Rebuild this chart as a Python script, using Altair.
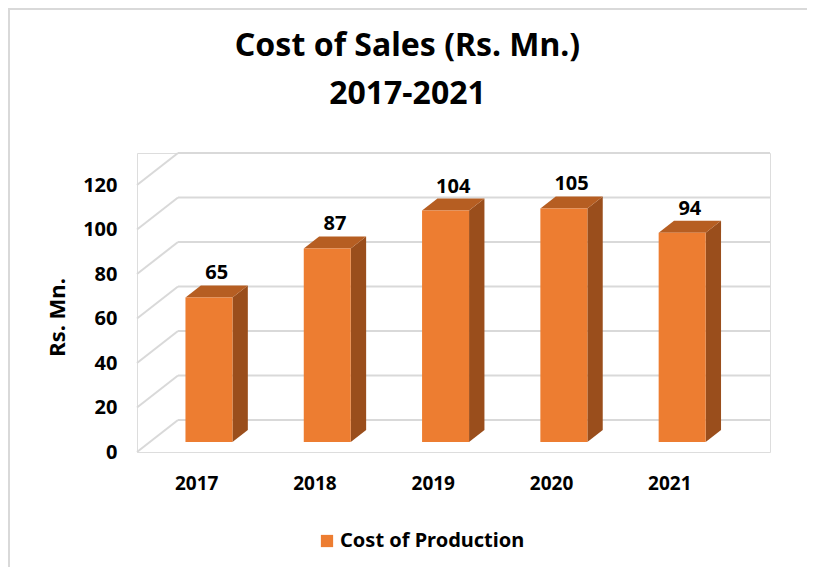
import altair as alt
import pandas as pd

# ---------------- data ----------------
years = ["2017", "2018", "2019", "2020", "2021"]
values = [65, 87, 104, 105, 94]
y_ticks = [0, 20, 40, 60, 80, 100, 120]
series_name = "Cost of Production"
title_lines = ["Cost of Sales (Rs. Mn.)", "2017-2021"]
y_title = "Rs. Mn."

# ---------------- geometry / style ----------------
PX_X = 118.3          # px per category band
PX_Y = 2.225          # px per value unit
W, H = 633, 299
X_MAX = W / PX_X
Y_MAX = H / PX_Y
DEPTH_X = 41 / PX_X   # 3-D depth of the floor/walls
DEPTH_Y = 32 / PX_Y
F_FRONT, F_BACK = 0.3125, 0.6875
HALF_W = 23.5 / PX_X
DDX = (F_BACK - F_FRONT) * DEPTH_X
DDY = (F_BACK - F_FRONT) * DEPTH_Y
PAD = {"left": 129, "top": 145, "right": 37, "bottom": 115}

FONT = "Noto Sans"
C_FRONT = "#ED7D31"
C_TOP = "#B65E22"
C_SIDE = "#9A4E1C"
C_GRID = "#D9D9D9"

# ---------------- derived tables ----------------
bars = pd.DataFrame({"year": years, "value": values})
bars["series"] = series_name
bars["i"] = range(len(years))
bars["xl"] = bars["i"] + 0.5 + F_FRONT * DEPTH_X - HALF_W
bars["xr"] = bars["i"] + 0.5 + F_FRONT * DEPTH_X + HALF_W
bars["yb"] = F_FRONT * DEPTH_Y
bars["yt"] = bars["value"] + bars["yb"]
bars["lx"] = (bars["xl"] + bars["xr"]) / 2 + DDX / 2
bars["ly"] = bars["yt"] + DDY

side_rows, top_rows = [], []
for _, r in bars.iterrows():
    side_rows.append({"year": r.year, "x": r.xr, "lo": r.yb, "hi": r.yt})
    side_rows.append({"year": r.year, "x": r.xr + DDX, "lo": r.yb + DDY, "hi": r.yt + DDY})
    top_rows.append({"year": r.year, "x": r.xl, "lo": r.yt, "hi": r.yt})
    top_rows.append({"year": r.year, "x": r.xl + DDX, "lo": r.yt, "hi": r.yt + DDY})
    top_rows.append({"year": r.year, "x": r.xr, "lo": r.yt, "hi": r.yt + DDY})
    top_rows.append({"year": r.year, "x": r.xr + DDX, "lo": r.yt + DDY, "hi": r.yt + DDY})
side = pd.DataFrame(side_rows)
top = pd.DataFrame(top_rows)

grid = pd.DataFrame({"k": y_ticks})
grid["xb"] = DEPTH_X
grid["xe"] = X_MAX
grid["yback"] = grid["k"] + DEPTH_Y
grid["x0"] = 0.0

# ---------------- scales / axes ----------------
xscale = alt.Scale(domain=[0, X_MAX], nice=False, zero=False)
yscale = alt.Scale(domain=[0, Y_MAX], nice=False, zero=False)

label_expr = "[" + ",".join("'%s'" % y for y in years) + "][floor(datum.value)]"
xaxis = alt.Axis(values=[i + 0.5 for i in range(len(years))], labelExpr=label_expr,
                 title=None, domain=False, ticks=False, grid=False,
                 labelFont=FONT, labelFontSize=19, labelFontWeight="bold",
                 labelColor="black", labelPadding=22, labelFlush=False)
yaxis = alt.Axis(values=y_ticks, title=y_title, domain=False, ticks=False, grid=False,
                 labelFont=FONT, labelFontSize=20, labelFontWeight="bold",
                 labelColor="black", labelPadding=20,
                 titleFont=FONT, titleFontSize=22, titleFontWeight="bold",
                 titleColor="black", titlePadding=13, titleY=164)


def X(f):
    return alt.X(f, type="quantitative", scale=xscale, axis=xaxis)


def Y(f):
    return alt.Y(f, type="quantitative", scale=yscale, axis=yaxis)


# ---------------- layers ----------------
border = alt.Chart(pd.DataFrame({"a": [0]})).mark_rect(
    fill="white", fillOpacity=0, stroke=C_GRID, strokeWidth=2
).encode(x=alt.value(1 - PAD["left"]), y=alt.value(1 - PAD["top"]),
         x2=alt.value(W + 200), y2=alt.value(H + 300))

back_grid = alt.Chart(grid).mark_rule(color=C_GRID, strokeWidth=2).encode(
    x=X("xb:Q"), x2="xe:Q", y=Y("yback:Q"))

diag = alt.Chart(grid).mark_rule(color=C_GRID, strokeWidth=2).encode(
    x=X("x0:Q"), x2="xb:Q", y=Y("k:Q"), y2="yback:Q")

side_l = alt.Chart(side).mark_area(color=C_SIDE, interpolate="linear").encode(
    x=X("x:Q"), y=Y("lo:Q"), y2="hi:Q", detail="year:N")

top_l = alt.Chart(top).mark_area(color=C_TOP, interpolate="linear").encode(
    x=X("x:Q"), y=Y("lo:Q"), y2="hi:Q", detail="year:N")

front = alt.Chart(bars).mark_rect().encode(
    x=X("xl:Q"), x2="xr:Q", y=Y("yb:Q"), y2="yt:Q",
    color=alt.Color("series:N",
                    scale=alt.Scale(domain=[series_name], range=[C_FRONT]),
                    legend=alt.Legend(orient="none", legendX=180, legendY=378, title=None,
                                      symbolType="square", symbolSize=150,
                                      symbolStrokeWidth=0, labelFont=FONT,
                                      labelFontSize=20, labelFontWeight="bold",
                                      labelColor="black", labelOffset=3, labelLimit=0)))

labels = alt.Chart(bars).mark_text(font=FONT, fontSize=20, fontWeight="bold",
                                   color="black", baseline="bottom", dy=-2).encode(
    x=X("lx:Q"), y=Y("ly:Q"), text="value:Q")

chart = alt.layer(border, back_grid, diag, side_l, top_l, front, labels).properties(
    width=W, height=H,
    title=alt.TitleParams(title_lines, font=FONT, fontSize=32, fontWeight="bold",
                          color="black", anchor="middle", frame="group", dx=-46,
                          offset=-103, lineHeight=48),
    autosize=alt.AutoSizeParams(type="none"),
    padding=PAD,
).configure_view(stroke=None).configure(font=FONT)

chart.save("out.html", embed_options={"renderer": "svg", "actions": False})
